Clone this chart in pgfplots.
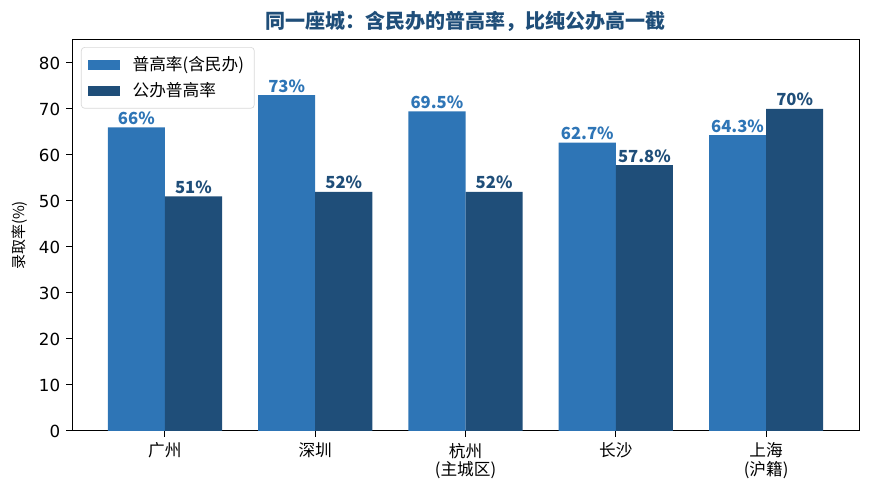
\documentclass[border=0pt]{standalone}
\usepackage{pgfplots}
\pgfplotsset{compat=1.18}
\usepackage{fontspec}
\setmainfont{Noto Sans CJK SC}
\newfontfamily\dejavu{DejaVu Sans}
\definecolor{barlight}{HTML}{2E75B6}
\definecolor{bardark}{HTML}{1F4E79}

\begin{document}
\begin{tikzpicture}
\begin{axis}[
  scale only axis,
  width=472.2pt, height=234.6pt,
  xmin=-0.618, xmax=4.618,
  ymin=0, ymax=85,
  ybar=0pt, bar width=0.38,
  clip=false,
  axis line style={black, line width=0.6pt},
  tick align=outside, xtick pos=bottom, ytick pos=left,
  major tick length=3.6pt,
  tick style={black, line width=0.6pt},
  xtick=data,
  xticklabels={广州,深圳,{杭州\\(主城区)},长沙,{上海\\(沪籍)}},
  xticklabel style={align=center, font=\fontsize{10}{11}\selectfont},
  ytick={0,10,...,80},
  yticklabel style={font=\dejavu\fontsize{10}{12}\selectfont},
  /pgf/number format/assume math mode=true,
  ylabel={录取率(\%)},
  ylabel style={font=\fontsize{9}{10}\selectfont, at={(rel axis cs:-0.066,0.5)}, anchor=center},
  legend style={at={(rel axis cs:0.0114,0.982)}, anchor=north west, draw=black!15,
    rounded corners=2pt, font=\fontsize{10}{12}\selectfont, row sep=1.6pt,
    inner xsep=4.2pt, inner ysep=3.5pt,
    /tikz/every odd column/.append style={column sep=5.4pt}},
  legend cell align=left,
  legend image code/.code={\fill[#1, rounded corners=0pt] (0pt,-3pt) rectangle (19.2pt,3pt);},
  nodes near coords={\pgfmathprintnumber{\pgfplotspointmeta}\%},
  every node near coord/.append style={font=\bfseries\fontsize{10}{11}\selectfont, inner sep=1.5pt, anchor=south},
]
\addplot[fill=barlight, draw=none, every node near coord/.append style={text=barlight}]
  coordinates {(0,66) (1,73) (2,69.5) (3,62.7) (4,64.3)};
\addplot[fill=bardark, draw=none, every node near coord/.append style={text=bardark}]
  coordinates {(0,51) (1,52) (2,52) (3,57.8) (4,70)};
\legend{普高率(含民办),公办普高率}
\node[font=\bfseries\fontsize{12}{14}\selectfont, text=bardark, anchor=base]
  at (rel axis cs:0.5,1.03) {同一座城：含民办的普高率，比纯公办高一截};
\path (rel axis cs:-0.0915,-0.1586) rectangle (rel axis cs:1.01525,1.1023);
\end{axis}
\end{tikzpicture}
\end{document}
